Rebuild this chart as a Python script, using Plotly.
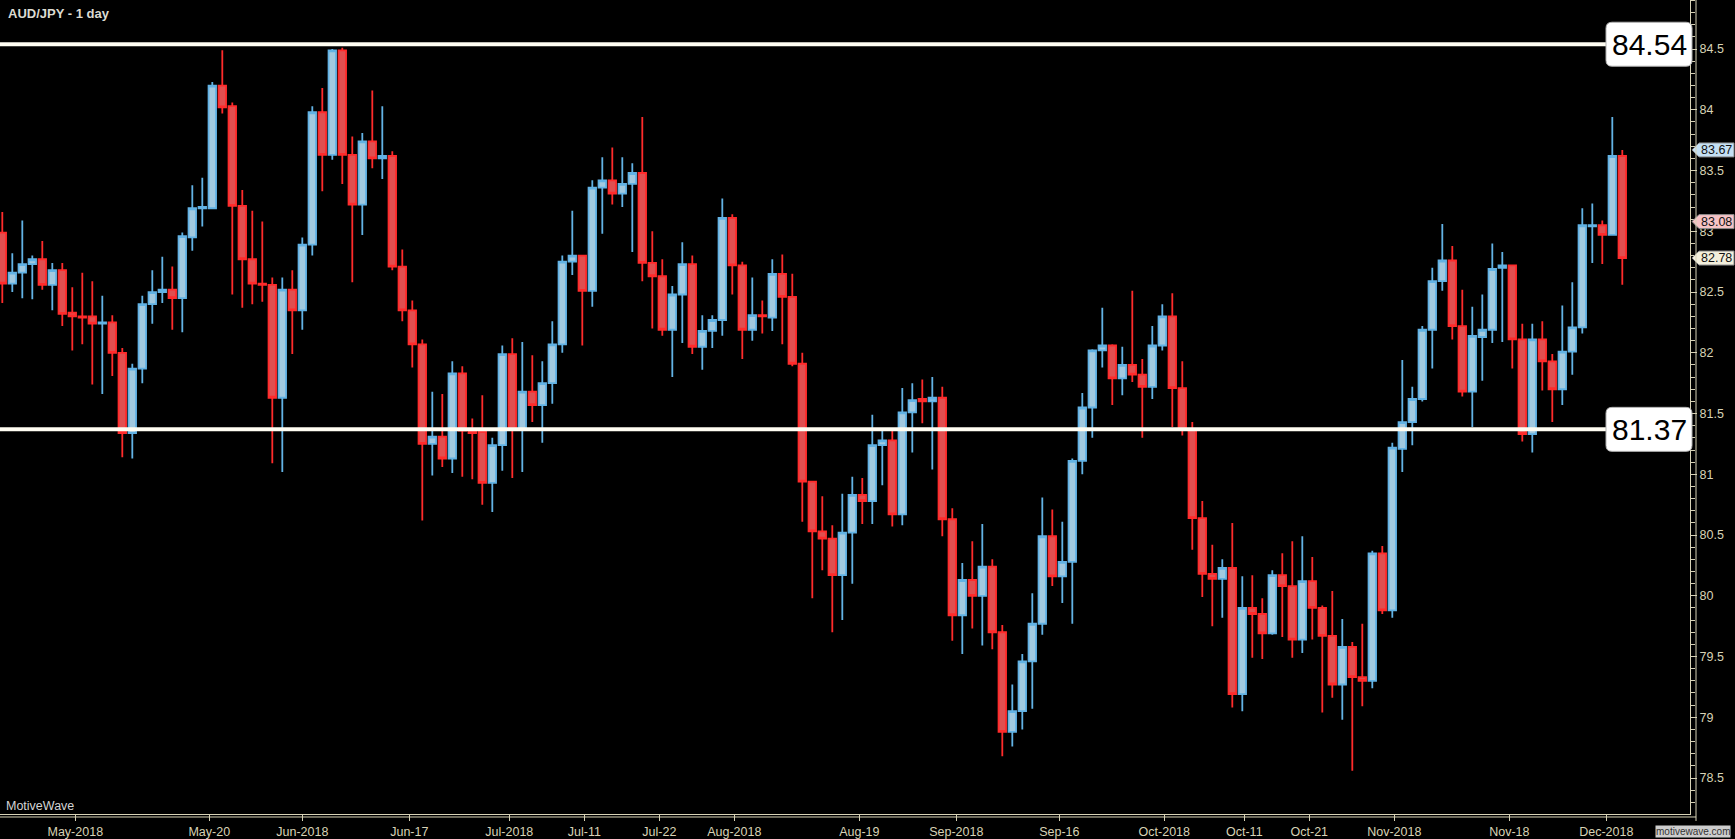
import plotly.graph_objects as go

# ---------------- data ----------------
opens = [82.99, 82.57, 82.66, 82.73, 82.77, 82.56, 82.68, 82.33, 82.30, 82.30,
         82.24, 82.25, 82.00, 81.34, 81.87, 82.40, 82.50, 82.52, 82.45, 82.95,
         83.19, 83.19, 84.20, 84.03, 83.21, 82.77, 82.57, 82.56, 81.63, 82.52,
         82.35, 82.89, 83.98, 83.63, 84.49, 83.63, 83.22, 83.74, 83.60, 83.62,
         82.71, 82.35, 82.07, 81.25, 81.31, 81.13, 81.83, 81.36, 81.35, 80.93,
         81.24, 81.99, 81.37, 81.68, 81.57, 81.75, 82.07, 82.75, 82.80, 82.51,
         83.36, 83.42, 83.31, 83.39, 83.48, 82.74, 82.63, 82.19, 82.48, 82.73,
         82.05, 82.18, 82.27, 83.11, 82.72, 82.19, 82.31, 82.29, 82.65, 82.46,
         81.91, 80.94, 80.53, 80.47, 80.17, 80.52, 80.83, 80.78, 81.24, 81.28,
         80.67, 81.51, 81.62, 81.60, 81.63, 80.63, 79.84, 80.13, 80.00, 80.24,
         79.70, 78.88, 79.05, 79.46, 79.77, 80.49, 80.16, 80.28, 81.11, 81.55,
         82.02, 82.06, 81.79, 81.90, 81.82, 81.72, 82.06, 82.30, 81.71, 81.37,
         80.64, 80.18, 80.14, 80.23, 79.19, 79.90, 79.85, 79.69, 80.17, 80.08,
         79.64, 80.12, 79.90, 79.67, 79.27, 79.58, 79.33, 79.30, 80.35, 79.88,
         81.21, 81.43, 81.62, 82.19, 82.59, 82.76, 82.22, 81.68, 82.13, 82.19,
         82.70, 82.72, 82.11, 81.33, 82.11, 81.93, 81.70, 82.01, 82.21, 83.04,
         83.05, 82.97, 83.62]
highs = [83.16, 82.82, 83.09, 82.80, 82.92, 82.74, 82.74, 82.54, 82.66, 82.59,
         82.47, 82.31, 82.04, 81.91, 82.47, 82.68, 82.79, 82.71, 82.99, 83.38,
         83.44, 84.23, 84.49, 84.06, 83.34, 83.17, 83.08, 82.62, 82.62, 82.68,
         82.95, 84.03, 84.18, 84.50, 84.51, 83.78, 83.81, 84.16, 84.03, 83.66,
         82.85, 82.43, 82.11, 81.68, 81.66, 81.93, 81.89, 81.46, 81.65, 81.30,
         82.06, 82.12, 82.09, 81.98, 81.93, 82.26, 82.80, 83.17, 82.80, 83.42,
         83.61, 83.69, 83.61, 83.56, 83.94, 83.00, 82.77, 82.55, 82.91, 82.80,
         82.31, 82.31, 83.27, 83.14, 82.75, 82.62, 82.43, 82.77, 82.81, 82.65,
         82.00, 80.94, 80.82, 80.58, 80.84, 80.98, 80.97, 81.49, 81.37, 81.36,
         81.71, 81.75, 81.78, 81.80, 81.72, 80.72, 80.27, 80.45, 80.59, 80.30,
         79.76, 79.27, 79.52, 80.02, 80.81, 80.71, 80.61, 81.13, 81.67, 82.03,
         82.37, 82.07, 82.05, 82.51, 81.95, 82.22, 82.40, 82.49, 81.93, 81.43,
         80.78, 80.42, 80.30, 80.60, 80.16, 80.17, 79.98, 80.21, 80.35, 80.45,
         80.49, 80.32, 79.92, 80.04, 79.81, 79.62, 79.77, 80.37, 80.41, 81.26,
         81.94, 81.72, 82.22, 82.70, 83.06, 82.88, 82.52, 82.38, 82.48, 82.90,
         82.83, 82.72, 82.24, 82.24, 82.26, 81.99, 82.39, 82.58, 83.19, 83.23,
         83.09, 83.94, 83.67]
lows = [82.41, 82.50, 82.45, 82.44, 82.52, 82.35, 82.22, 82.02, 82.07, 81.74,
        81.66, 81.81, 81.14, 81.13, 81.75, 82.24, 82.41, 82.19, 82.17, 82.84,
        83.04, 83.19, 83.97, 82.48, 82.37, 82.40, 82.42, 81.09, 81.02, 81.99,
        82.19, 82.80, 83.33, 83.59, 83.39, 82.58, 82.97, 83.52, 83.43, 82.68,
        82.26, 81.88, 80.62, 80.99, 81.06, 81.01, 80.98, 80.96, 80.75, 80.69,
        81.03, 80.97, 81.02, 81.43, 81.26, 81.58, 82.00, 82.64, 82.06, 82.38,
        82.98, 83.22, 83.20, 82.83, 82.59, 82.20, 82.14, 81.80, 82.08, 81.99,
        81.86, 82.04, 82.14, 82.48, 81.95, 82.10, 82.16, 82.18, 82.07, 81.89,
        80.61, 79.98, 80.21, 79.70, 79.80, 80.10, 80.59, 80.59, 80.91, 80.57,
        80.58, 81.18, 81.42, 81.04, 80.49, 79.63, 79.52, 79.73, 79.59, 79.56,
        78.68, 78.76, 78.90, 79.07, 79.68, 80.08, 79.94, 79.77, 81.00, 81.30,
        81.88, 81.57, 81.65, 81.76, 81.30, 81.62, 82.02, 81.39, 81.32, 80.38,
        79.99, 79.75, 79.82, 79.08, 79.05, 79.49, 79.48, 79.68, 79.66, 79.49,
        79.53, 79.64, 79.04, 79.16, 78.98, 78.56, 79.09, 79.24, 79.85, 79.82,
        81.02, 81.24, 81.60, 81.87, 82.51, 82.11, 81.64, 81.39, 81.77, 82.08,
        82.09, 81.87, 81.27, 81.18, 81.69, 81.43, 81.57, 81.82, 82.16, 82.74,
        82.73, 82.97, 82.56]
closes = [82.57, 82.66, 82.73, 82.77, 82.56, 82.68, 82.32, 82.30, 82.29, 82.24,
          82.25, 82.00, 81.34, 81.87, 82.40, 82.50, 82.52, 82.45, 82.96, 83.19,
          83.20, 84.20, 84.02, 83.21, 82.77, 82.57, 82.56, 81.63, 82.52, 82.35,
          82.89, 83.98, 83.63, 84.49, 83.63, 83.22, 83.74, 83.60, 83.62, 82.71,
          82.35, 82.07, 81.25, 81.31, 81.13, 81.83, 81.36, 81.34, 80.93, 81.24,
          81.99, 81.37, 81.68, 81.57, 81.75, 82.07, 82.75, 82.80, 82.51, 83.36,
          83.42, 83.31, 83.39, 83.48, 82.74, 82.63, 82.19, 82.48, 82.73, 82.05,
          82.18, 82.27, 83.11, 82.72, 82.19, 82.31, 82.30, 82.65, 82.46, 81.91,
          80.94, 80.53, 80.47, 80.17, 80.52, 80.83, 80.78, 81.24, 81.28, 80.67,
          81.51, 81.61, 81.60, 81.63, 80.63, 79.84, 80.13, 80.00, 80.24, 79.70,
          78.88, 79.05, 79.46, 79.77, 80.49, 80.16, 80.28, 81.11, 81.55, 82.02,
          82.06, 81.79, 81.90, 81.82, 81.72, 82.06, 82.30, 81.71, 81.37, 80.64,
          80.18, 80.14, 80.23, 79.19, 79.90, 79.85, 79.69, 80.17, 80.08, 79.64,
          80.12, 79.90, 79.67, 79.27, 79.58, 79.33, 79.30, 80.35, 79.88, 81.22,
          81.43, 81.62, 82.19, 82.59, 82.76, 82.22, 81.68, 82.14, 82.19, 82.69,
          82.72, 82.11, 81.33, 82.11, 81.93, 81.70, 82.01, 82.21, 83.05, 83.05,
          82.97, 83.62, 82.78]

tick_pos = [7.3, 20.7, 30.0, 40.7, 50.7, 58.2, 65.7, 73.2, 85.7, 95.4,
            105.7, 116.2, 124.2, 130.7, 139.2, 150.7, 160.4]
tick_labels = ["May-2018", "May-20", "Jun-2018", "Jun-17", "Jul-2018", "Jul-11",
               "Jul-22", "Aug-2018", "Aug-19", "Sep-2018", "Sep-16", "Oct-2018",
               "Oct-11", "Oct-21", "Nov-2018", "Nov-18", "Dec-2018"]

y_ticks = [78.5, 79.0, 79.5, 80.0, 80.5, 81.0, 81.5, 82.0, 82.5, 83.0, 83.5, 84.0, 84.5]
y_tick_labels = ["78.5", "79", "79.5", "80", "80.5", "81", "81.5", "82",
                 "82.5", "83", "83.5", "84", "84.5"]

levels = [84.54, 81.37]
level_labels = ["84.54", "81.37"]

tag_values = [83.67, 83.08, 82.78]
tag_labels = ["83.67", "83.08", "82.78"]
tag_fills = ["#c4e0f4", "#f6c3c6", "#f3efdc"]

# ---------------- style ----------------
FONT = "Liberation Sans, Arial, sans-serif"
AX = "#d8d3b6"
bars = list(range(len(opens)))

fig = go.Figure()
fig.add_trace(go.Candlestick(
    x=bars, open=opens, high=highs, low=lows, close=closes,
    increasing=dict(fillcolor="#a2c9df", line=dict(color="#62b2e4", width=1.8)),
    decreasing=dict(fillcolor="#e04f50", line=dict(color="#ff2b2b", width=1.8)),
    whiskerwidth=0, hoverinfo="skip", showlegend=False,
))

shapes = []
annotations = []

# level lines + rounded label boxes
for lv, lab in zip(levels, level_labels):
    shapes.append(dict(type="line", xref="paper", x0=0, x1=1, yref="y", y0=lv, y1=lv,
                       line=dict(color="#fffdf2", width=4), layer="above"))
    r = 6
    path = (f"M {-84+r} -22 L {2-r} -22 Q 2 -22 2 {-22+r} L 2 {22-r} Q 2 22 {2-r} 22 "
            f"L {-84+r} 22 Q -84 22 -84 {22-r} L -84 {-22+r} Q -84 -22 {-84+r} -22 Z")
    shapes.append(dict(type="path", xref="paper", xsizemode="pixel", xanchor=1,
                       yref="y", ysizemode="pixel", yanchor=lv, path=path,
                       fillcolor="#ffffff", line=dict(color="#b0b0b0", width=1), layer="above"))
    annotations.append(dict(x=1, xref="paper", xshift=-41, xanchor="center",
                            y=lv, yref="y", yanchor="middle", text=lab, showarrow=False,
                            font=dict(family=FONT, size=30, color="#000000")))

# right-hand price tags
for v, lab, fc in zip(tag_values, tag_labels, tag_fills):
    shapes.append(dict(type="path", xref="paper", xsizemode="pixel", xanchor=1,
                       yref="y", ysizemode="pixel", yanchor=v,
                       path="M 2 0 L 9 -7 L 44 -7 L 44 7 L 9 7 Z",
                       fillcolor=fc, line=dict(color="#8a8a8a", width=1), layer="above"))
    annotations.append(dict(x=1, xref="paper", xshift=26.5, xanchor="center",
                            y=v, yref="y", yanchor="middle", text=lab, showarrow=False,
                            font=dict(family=FONT, size=12.5, color="#111111")))

# double frame lines (bottom and right)
shapes.append(dict(type="line", xref="paper", yref="paper", x0=0, x1=1696/1690,
                   y0=-3/816, y1=-3/816, line=dict(color=AX, width=1)))
shapes.append(dict(type="line", xref="paper", yref="paper", x0=1696/1690, x1=1696/1690,
                   y0=-7/816, y1=1, line=dict(color=AX, width=1)))

annotations += [
    dict(x=0, xref="paper", xshift=6, xanchor="left", y=1, yref="paper", yshift=-13,
         yanchor="middle", text="<b>AUD/JPY - 1 day</b>", showarrow=False,
         font=dict(family=FONT, size=13, color="#dcdbd2")),
    dict(x=0, xref="paper", xshift=4, xanchor="left", y=0, yref="paper", yshift=8,
         yanchor="middle", text="MotiveWave", showarrow=False,
         font=dict(family=FONT, size=12.5, color="#d4d4d4")),
    dict(x=1, xref="paper", xshift=2.5, xanchor="center", y=0, yref="paper", yshift=-17,
         yanchor="middle", text="motivewave.com", showarrow=False, bgcolor="#cdcdcd",
         borderpad=0, font=dict(family=FONT, size=10, color="#333333")),
]

fig.update_layout(
    width=1735, height=839,
    margin=dict(l=0, r=45, t=0, b=23),
    paper_bgcolor="#000000", plot_bgcolor="#000000",
    boxgap=0.25, boxgroupgap=0,
    showlegend=False, hovermode=False,
    shapes=shapes, annotations=annotations,
    xaxis=dict(range=[-0.23, 168.77], rangeslider=dict(visible=False),
               showgrid=False, zeroline=False, showline=True, linecolor=AX, linewidth=1,
               tickmode="array", tickvals=tick_pos, ticktext=tick_labels,
               ticks="outside", ticklen=6, tickcolor=AX, tickwidth=1,
               tickfont=dict(family=FONT, size=12.5, color=AX), fixedrange=True),
    yaxis=dict(range=[78.204, 84.904], side="right", showgrid=False, zeroline=False,
               showline=True, linecolor=AX, linewidth=1,
               tickmode="array", tickvals=y_ticks, ticktext=y_tick_labels,
               ticks="outside", ticklen=6, tickcolor=AX, tickwidth=1,
               minor=dict(dtick=0.1, tick0=0, ticks="outside", ticklen=4,
                          tickcolor=AX, tickwidth=1, showgrid=False),
               tickfont=dict(family=FONT, size=12.5, color=AX), fixedrange=True),
)

fig.write_html(
    "out.html",
    config={"displayModeBar": False},
    post_script="document.body.style.margin='0';document.body.style.background='#000';"
                "document.body.style.overflow='hidden';",
)
